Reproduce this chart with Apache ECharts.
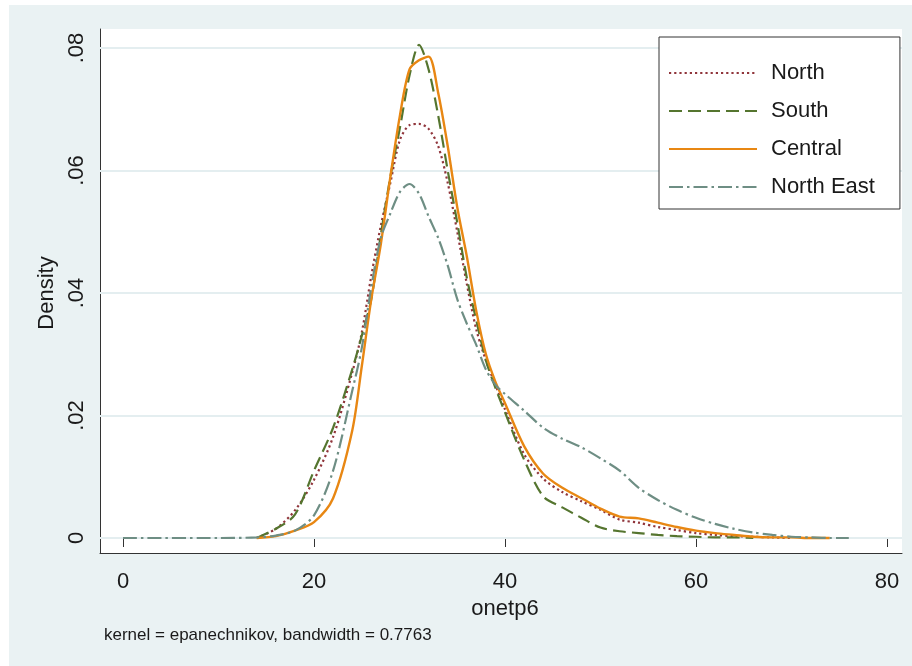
<!DOCTYPE html>
<html>
<head>
<meta charset="utf-8">
<script src="https://cdn.jsdelivr.net/npm/echarts@6/dist/echarts.min.js"></script>
<style>
  html, body { margin: 0; padding: 0; background: #fff; }
  #bg { position: absolute; left: 9px; top: 5px; right: 0; bottom: 0; background: #eaf2f3; }
  #main { position: absolute; left: 0; top: 0; width: 912px; height: 666px; }
</style>
</head>
<body>
<div id="bg"></div>
<div id="main"></div>
<script>
const xs = [0, 10, 14, 16, 18, 20, 22, 24, 25, 26, 27, 28, 29, 30, 31, 32, 33, 34, 35, 36, 37, 38, 39, 40,
  42, 44, 46, 48, 50, 52, 54, 56, 58, 60, 62, 64, 66, 68, 70, 72, 74, 76]

const north = [null, null, 0, .0015, .0045, .0095, .0165, .027, .0335, .0428, .051, .058, .065, .0674, .0676, .0668,
  .064, .058, .050, .0415, .034, .029, .025, .021, .0137, .0097, .0075, .006, .0046, .003, .0025, .0018, .0013,
  .0008, .0005, .0003, .0002, .0001, 0, null, null, null]
const south = [null, null, 0, .0015, .0038, .011, .018, .0275, .033, .039, .0495, .059, .067, .0755, .0805, .0765,
  .069, .060, .0515, .0425, .0355, .029, .0245, .0205, .0128, .0068, .005, .0033, .0017, .0011, .0008, .0005, .0003,
  .0002, .0001, .0001, 0, null, null, null, null, null]
const central = [null, null, 0, .0003, .0012, .0026, .0065, .0175, .028, .039, .048, .059, .069, .0765, .078, .0786,
  .0727, .064, .054, .046, .037, .030, .0255, .022, .015, .0105, .0082, .0065, .0048, .0035, .0032, .0025, .0018,
  .0012, .0008, .0005, .0002, .0001, .0001, 0, 0, null]
const northEast = [0, 0, .0001, .0004, .0012, .0037, .011, .024, .031, .041, .049, .053, .0565, .0578, .0562, .0525,
  .049, .0445, .039, .035, .0315, .0275, .025, .0235, .0208, .018, .0162, .0148, .013, .011, .0082, .0062, .0046,
  .0033, .0023, .0015, .0009, .0005, .0002, .0001, 0, 0]

const xTicks = [0, 20, 40, 60, 80]
const yTicks = [0, 0.02, 0.04, 0.06, 0.08]

const pairs = (ys) => xs.map((x, i) => [x, ys[i]]).filter((p) => p[1] !== null)

const font = "'Liberation Sans', Arial, sans-serif"
const ink = '#1a1a1a'

var myChart = echarts.init(document.getElementById('main'))

const curve = (name, ys, color, type, width) => ({
  name: name,
  type: 'line',
  xAxisIndex: 0,
  yAxisIndex: 0,
  data: pairs(ys),
  symbol: 'none',
  smooth: 0.3,
  z: 3,
  lineStyle: { color: color, type: type, width: width, cap: 'butt' },
  itemStyle: { color: color },
})

var option = {
  animation: false,
  backgroundColor: 'transparent',
  textStyle: { fontFamily: font },
  title: {
    text: 'kernel = epanechnikov, bandwidth = 0.7763',
    left: 99,
    top: 622,
    textStyle: { fontSize: 17, fontWeight: 'normal', color: ink, fontFamily: font },
  },
  legend: {
    data: ['North', 'South', 'Central', 'North East'],
    orient: 'vertical',
    left: 659,
    top: 37,
    padding: [25, 25, 11, 9],
    itemGap: 16,
    itemWidth: 88,
    itemHeight: 14,
    backgroundColor: '#fff',
    borderColor: '#333',
    borderWidth: 1,
    itemStyle: { opacity: 0 },
    textStyle: { fontSize: 22, color: ink, fontFamily: font, lineHeight: 22, padding: [0, 0, 0, 9] },
  },
  grid: [
    // whole plot region (white)
    { left: 100, right: 10, top: 29, bottom: 113, show: true, backgroundColor: '#fff', borderWidth: 0 },
    // region spanned by the ticks 0..80 / 0...08
    { left: 123, right: 25, top: 48, bottom: 128 },
  ],
  xAxis: [
    {
      gridIndex: 0, type: 'value', min: -23 / 9.55, max: 779 / 9.55,
      axisLine: { show: true, onZero: false, lineStyle: { color: '#333', width: 1 } },
      axisTick: { show: false }, axisLabel: { show: false }, splitLine: { show: false },
    },
    {
      gridIndex: 1, type: 'value', min: xTicks[0], max: xTicks[xTicks.length - 1], interval: 20, offset: 15,
      axisLine: { show: false },
      axisTick: { show: true, length: 9, lineStyle: { color: '#333' } },
      axisLabel: { fontSize: 22, color: ink, margin: 18, fontFamily: font },
      splitLine: { show: false },
      name: 'onetp6', nameLocation: 'middle', nameGap: 34,
      nameTextStyle: { fontSize: 22, color: ink, fontFamily: font },
    },
  ],
  yAxis: [
    {
      gridIndex: 0, type: 'value', min: -15 / 6125, max: 509 / 6125,
      axisLine: { show: true, onZero: false, lineStyle: { color: '#333', width: 1 } },
      axisTick: { show: false }, axisLabel: { show: false }, splitLine: { show: false },
    },
    {
      gridIndex: 1, type: 'value', min: yTicks[0], max: yTicks[yTicks.length - 1], interval: 0.02, offset: 23,
      axisLine: { show: false },
      axisTick: { show: true, length: 9, lineStyle: { color: '#333' } },
      axisLabel: {
        fontSize: 22, color: ink, margin: 12, rotate: 90, fontFamily: font,
        formatter: (v) => (v === 0 ? '0' : v.toFixed(2).replace(/^0/, '')),
      },
      splitLine: { show: false },
      name: 'Density', nameLocation: 'middle', nameGap: 38,
      nameTextStyle: { fontSize: 22, color: ink, fontFamily: font },
    },
  ],
  series: [
    {
      name: 'grid',
      type: 'line',
      xAxisIndex: 0,
      yAxisIndex: 0,
      data: [],
      silent: true,
      z: 1,
      markLine: {
        silent: true,
        z: 1,
        symbol: ['none', 'none'],
        label: { show: false },
        lineStyle: { color: '#e4eef0', type: 'solid', width: 2 },
        data: yTicks.map((v) => ({ yAxis: v })),
      },
    },
    curve('North', north, '#90353b', [2.2, 3], 2.2),
    curve('South', south, '#55752f', [13, 6], 2.2),
    curve('Central', central, '#e88713', 'solid', 2.4),
    curve('North East', northEast, '#6e8e84', [14, 4, 2.5, 4], 2.2),
  ],
}

myChart.setOption(option)
</script>
</body>
</html>
